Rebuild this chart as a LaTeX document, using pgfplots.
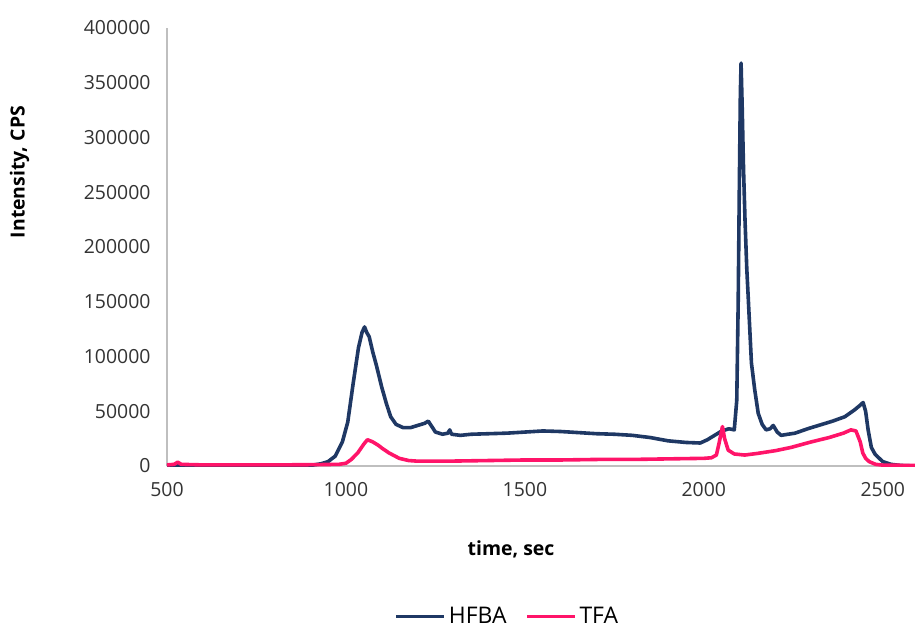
\documentclass[border=0pt]{standalone}
\usepackage{pgfplots}
\pgfplotsset{compat=1.18}
\usepackage{fontspec}
\setmainfont{Open Sans}
\definecolor{hfba}{RGB}{31,56,100}
\definecolor{tfa}{RGB}{255,20,105}
\definecolor{axgray}{RGB}{191,191,191}
\begin{document}
\begin{tikzpicture}
\useasboundingbox (-167bp,-164bp) rectangle (748bp,466bp);
\begin{axis}[
    at={(0,0)}, anchor=south west,
    scale only axis,
    width=748bp, height=438bp,
    xmin=500, xmax=2590,
    ymin=0, ymax=400000,
    xtick={500,1000,1500,2000,2500},
    ytick={0,50000,100000,150000,200000,250000,300000,350000,400000},
    scaled y ticks=false,
    /pgf/number format/fixed,
    /pgf/number format/assume math mode=true,
    /pgf/number format/set thousands separator={},
    axis x line*=bottom, axis y line*=left,
    axis line style={axgray, line width=1.2bp},
    tick style={draw=none},
    ticklabel style={font=\fontsize{19.5}{22}\selectfont, text=black!80},
    xticklabel style={yshift=-13bp},
    yticklabel style={xshift=-13bp},
    xlabel={time, sec},
    ylabel={Intensity, CPS},
    every axis x label/.style={at={(rel axis cs:0.46,-0.19)}, anchor=center, font=\bfseries\fontsize{19.5}{22}\selectfont},
    every axis y label/.style={at={(rel axis cs:-0.197,0.671)}, rotate=90, anchor=center, font=\bfseries\fontsize{19.5}{22}\selectfont},
    legend style={at={(rel axis cs:0.4545,-0.343)}, anchor=center, draw=none, legend columns=2,
        inner sep=0pt, nodes={inner sep=1bp},
        font=\fontsize{23}{25}\selectfont,
        /tikz/column sep=2bp,
        /tikz/every even column/.append style={column sep=18bp}},
    legend image code/.code={\draw[#1, line width=3bp] (0bp,0bp) -- (48bp,0bp);},
    legend cell align=left,
]
\addplot[hfba, line width=3.6bp, line join=round] coordinates {
(500,0) (600,300) (670,800) (700,300) (800,0) (900,500) (930,2000) (950,4000)
(970,9000) (990,22000) (1005,40000) (1020,75000) (1035,108000) (1045,122000)
(1052,127000) (1058,122000) (1065,118000) (1075,104000) (1085,92000)
(1100,72000) (1113,57000) (1125,45000) (1140,38000) (1160,35000) (1180,35000)
(1200,37000) (1220,39000) (1230,41000) (1240,36000) (1250,31000) (1270,29000)
(1285,30000) (1290,33000) (1295,29000) (1320,28000) (1350,29000) (1400,29500)
(1450,30000) (1500,31000) (1550,32000) (1600,31500) (1650,30500) (1700,29500)
(1750,29000) (1800,28000) (1850,26000) (1900,23000) (1950,21500) (1990,21000)
(2010,24000) (2030,28000) (2050,32000) (2070,34000) (2085,33000) (2092,60000)
(2096,150000) (2099,250000) (2102,340000) (2104,368000) (2107,330000)
(2111,270000) (2115,225000) (2120,180000) (2124,154000) (2133,94000)
(2142,70000) (2152,48000) (2163,38000) (2174,33000) (2185,34000) (2194,37000)
(2205,31000) (2216,28000) (2235,29000) (2255,30000) (2290,34000) (2320,37000)
(2360,41000) (2394,45000) (2420,51000) (2435,55000) (2445,58000) (2452,50000)
(2459,33000) (2468,17000) (2478,11000) (2487,8000) (2500,4000) (2523,1500)
(2550,500) (2590,0)
};
\addlegendentry{HFBA}
\addplot[tfa, line width=3.6bp, line join=round] coordinates {
(500,1000) (520,1500) (530,3500) (540,1500) (600,1000) (700,1000) (800,1000)
(900,1200) (980,1500) (1000,2500) (1015,6000) (1033,12000) (1050,20000)
(1060,24000) (1075,22000) (1090,19000) (1102,16000) (1120,12000) (1149,7000)
(1175,5000) (1196,4500) (1250,4500) (1300,4500) (1400,5000) (1500,5500)
(1600,5500) (1706,6000) (1800,6000) (1900,6500) (2000,7000) (2021,7500)
(2035,10000) (2042,20000) (2052,36000) (2058,25000) (2068,14500) (2085,11000)
(2114,10000) (2150,11500) (2200,14000) (2244,17000) (2300,22000) (2350,26000)
(2390,30000) (2411,33000) (2425,32000) (2437,22000) (2444,12000) (2452,7000)
(2462,4000) (2480,1500) (2500,800) (2590,500)
};
\addlegendentry{TFA}
\end{axis}
\end{tikzpicture}
\end{document}
